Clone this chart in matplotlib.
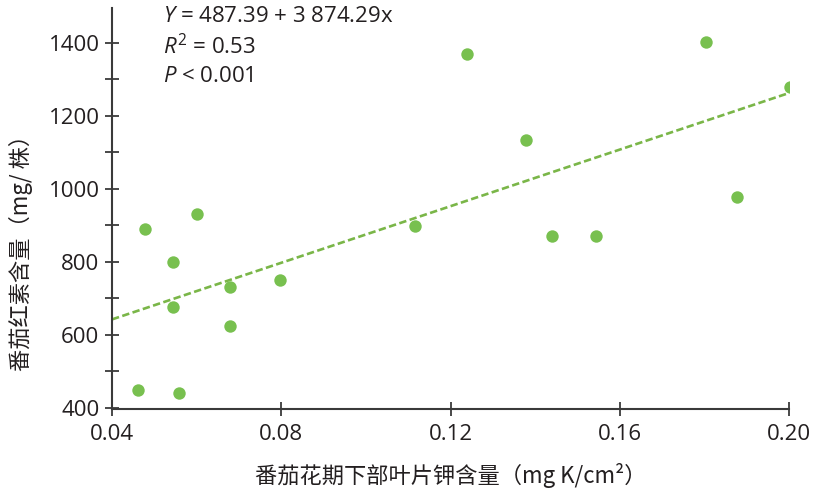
import matplotlib
matplotlib.use("Agg")
import matplotlib.pyplot as plt
import numpy as np
from matplotlib.ticker import MultipleLocator

plt.rcParams['font.family'] = ['Open Sans', 'DejaVu Sans']
plt.rcParams['mathtext.fontset'] = 'custom'
plt.rcParams['mathtext.rm'] = 'Open Sans'
plt.rcParams['mathtext.it'] = 'Open Sans:italic'

# Data
potassium = [0.0462, 0.0559, 0.0478, 0.0543, 0.0543, 0.0602, 0.0679, 0.0679, 0.0797,
             0.1116, 0.1239, 0.1379, 0.1439, 0.1543, 0.1804, 0.1878, 0.2003]
lycopene = [450, 440, 889, 800, 675, 931, 732, 625, 749,
            899, 1368, 1133, 871, 871, 1403, 977, 1279]

intercept = 487.39
slope = 3874.29
fit_range = [0.04, 0.20]

x_ticks = [0.04, 0.08, 0.12, 0.16, 0.20]
x_ticklabels = ['0.04', '0.08', '0.12', '0.16', '0.20']
y_ticks = [400, 600, 800, 1000, 1200, 1400]

green = '#78C04F'
axis_col = '#3a3a3a'
txt_col = '#231f20'
fs = 16

fig = plt.figure(figsize=(8.14, 4.93), dpi=100)
ax = fig.add_axes([112/814, 1 - 409/493, (789-112)/814, (409-8)/493])

ax.scatter(potassium, lycopene, s=80, color=green, zorder=3, linewidths=0)
fx = np.array(fit_range)
ax.plot(fx, intercept + slope * fx, color='#7AB648', lw=1.9, dashes=(2.8, 1.3), zorder=2)

ax.set_xlim(0.04, 0.20)
ax.set_ylim(397, 1495)
ax.set_xticks(x_ticks)
ax.set_xticklabels(x_ticklabels)
ax.set_yticks(y_ticks)
ax.yaxis.set_minor_locator(MultipleLocator(100))

for s in ['top', 'right']:
    ax.spines[s].set_visible(False)
for s in ['left', 'bottom']:
    ax.spines[s].set_color(axis_col)
    ax.spines[s].set_linewidth(1.5)

ax.tick_params(which='both', direction='inout', length=10, width=1.3, color=axis_col)
ax.tick_params(axis='both', which='major', labelsize=fs, labelcolor=txt_col, pad=4)
ax.tick_params(axis='x', which='major', pad=6)

cjk = ['Noto Sans CJK SC', 'DejaVu Sans']
ax.set_xlabel('番茄花期下部叶片钾含量（mg K/cm²）', family=cjk, fontsize=fs,
              color=txt_col, labelpad=13)
ax.set_ylabel('番茄红素含量（mg/ 株）', family=cjk, fontsize=fs,
              color=txt_col)
ax.yaxis.set_label_coords((33 - 112) / 677, 1 - (247 - 8) / 401)

tx = (163 - 112) / (789 - 112)
ax.text(tx, 1 - (17 - 8) / 401, '$Y$ = 487.39 + 3 874.29x', transform=ax.transAxes,
        fontsize=fs, va='center', ha='left', color=txt_col)
ax.text(tx, 1 - (47 - 8) / 401, '$R^2$ = 0.53', transform=ax.transAxes,
        fontsize=fs, va='center', ha='left', color=txt_col)
ax.text(tx, 1 - (76 - 8) / 401, '$P$ < 0.001', transform=ax.transAxes,
        fontsize=fs, va='center', ha='left', color=txt_col)

fig.savefig('out.png', dpi=100)
